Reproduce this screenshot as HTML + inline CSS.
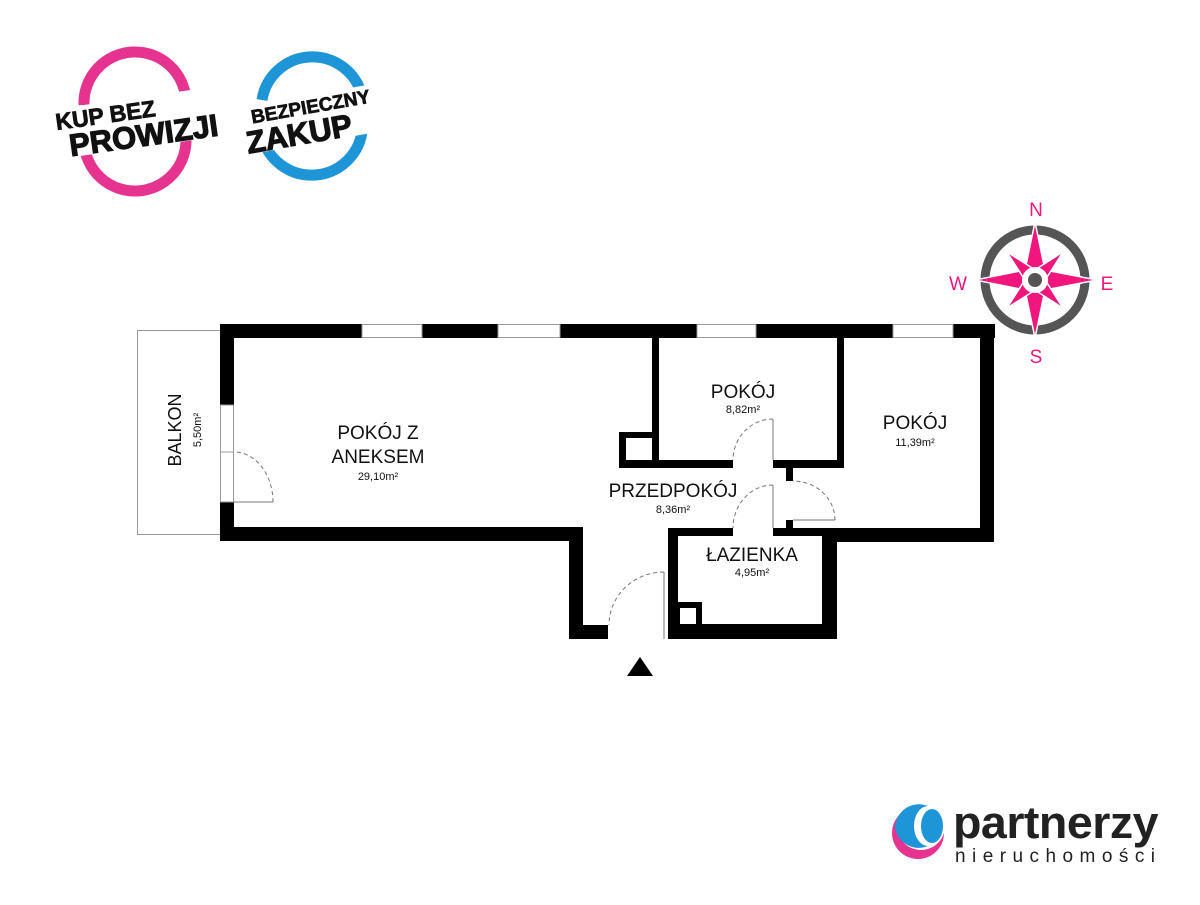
<!DOCTYPE html>
<html><head><meta charset="utf-8"><style>
html,body{margin:0;padding:0;background:#fff;}
body{width:1200px;height:900px;overflow:hidden;}
svg text{font-family:"Liberation Sans",sans-serif;}
</style></head><body>
<svg width="1200" height="900" viewBox="0 0 1200 900" xmlns="http://www.w3.org/2000/svg">
<!-- badges -->
<g>
<path d="M 84 105 A 51 51 0 0 1 186 101" fill="none" stroke="#e6338f" stroke-width="11"/>
<path d="M 186 138 A 51 51 0 0 1 84 142" fill="none" stroke="#e6338f" stroke-width="11"/>
<g transform="rotate(-8 135 117)">
<rect x="60" y="98" width="165" height="50" fill="#fff"/>
<text x="106" y="119" font-size="23" font-weight="bold" text-anchor="middle" fill="#111" stroke="#111" stroke-width="0.8">KUP BEZ</text>
<text x="141" y="147" font-size="31" font-weight="bold" text-anchor="middle" fill="#111" stroke="#111" stroke-width="1.2">PROWIZJI</text>
</g>
</g>
<g>
<path d="M 262 100 A 51 51 0 0 1 362 96" fill="none" stroke="#1e95d6" stroke-width="11"/>
<path d="M 362 132 A 51 51 0 0 1 262 136" fill="none" stroke="#1e95d6" stroke-width="11"/>
<g transform="rotate(-10 312 115)">
<rect x="242" y="95" width="140" height="48" fill="#fff"/>
<text x="312" y="113" font-size="19" font-weight="bold" text-anchor="middle" fill="#111" stroke="#111" stroke-width="0.7">BEZPIECZNY</text>
<text x="296" y="142" font-size="31" font-weight="bold" text-anchor="middle" fill="#111" stroke="#111" stroke-width="1.2">ZAKUP</text>
</g>
</g>

<!-- compass -->
<g>
<circle cx="1035" cy="280" r="50" fill="none" stroke="#555" stroke-width="9"/>
<g stroke="#555" stroke-width="3">
<line x1="1035" y1="280" x2="1035" y2="280"/>
</g>
<g fill="#f0167e" stroke="#fff" stroke-width="1.5">
<polygon points="1035,222 1045,270 1035,280 1025,270"/>
<polygon points="1035,338 1045,290 1035,280 1025,290"/>
<polygon points="975,280 1025,270 1035,280 1025,290"/>
<polygon points="1097,280 1045,270 1035,280 1045,290"/>
<g transform="rotate(45 1035 280)">
<polygon points="1035,240 1042,272 1035,280 1028,272"/>
<polygon points="1035,320 1042,288 1035,280 1028,288"/>
<polygon points="995,280 1027,273 1035,280 1027,287"/>
<polygon points="1075,280 1043,273 1035,280 1043,287"/>
</g>
</g>
<circle cx="1035" cy="280" r="13" fill="#fff"/>
<circle cx="1035" cy="280" r="7" fill="#555"/>
<text x="1036" y="216" font-size="19" fill="#f0167e" text-anchor="middle">N</text>
<text x="1036" y="363" font-size="19" fill="#f0167e" text-anchor="middle">S</text>
<text x="958" y="290" font-size="19" fill="#f0167e" text-anchor="middle">W</text>
<text x="1107" y="290" font-size="19" fill="#f0167e" text-anchor="middle">E</text>
</g>

<!-- balcony -->
<rect x="137.5" y="330.5" width="83" height="204" fill="none" stroke="#999" stroke-width="1"/>
<text transform="translate(181 430) rotate(-90)" font-size="18" text-anchor="middle" fill="#111">BALKON</text>
<text transform="translate(201 430) rotate(-90)" font-size="11" text-anchor="middle" fill="#111">5,50m²</text>

<!-- walls -->
<g fill="#000">
<rect x="220" y="324" width="775" height="14"/>
<rect x="220" y="324" width="14" height="81"/>
<rect x="220" y="502" width="14" height="39"/>
<rect x="220" y="527" width="363" height="14"/>
<rect x="569" y="527" width="14" height="112"/>
<rect x="569" y="625" width="39" height="14"/>
<rect x="980" y="324" width="14" height="218"/>
<rect x="822" y="528" width="172" height="14"/>
<rect x="652" y="338" width="7" height="130"/>
<rect x="652" y="460" width="81" height="8"/>
<rect x="773" y="460" width="71" height="8"/>
<rect x="837" y="338" width="7" height="130"/>
<rect x="619" y="432" width="40" height="36"/>
<rect x="786" y="468" width="7" height="13"/>
<rect x="786" y="520" width="7" height="8"/>
<rect x="668" y="528" width="65" height="8"/>
<rect x="773" y="528" width="64" height="8"/>
<rect x="668" y="528" width="10" height="111"/>
<rect x="822" y="528" width="15" height="111"/>
<rect x="668" y="624" width="169" height="15"/>
<rect x="674" y="602" width="28" height="22"/>
</g>
<rect x="626" y="438" width="26" height="22" fill="#fff"/>
<rect x="680" y="608" width="16" height="16" fill="#fff"/>
<!-- windows -->
<g fill="#fff" stroke="#999" stroke-width="1">
<rect x="362" y="324.5" width="60" height="13"/>
<rect x="498" y="324.5" width="62" height="13"/>
<rect x="697" y="324.5" width="59" height="13"/>
<rect x="893" y="324.5" width="60" height="13"/>
<rect x="220.5" y="405" width="13" height="47"/>
<rect x="220.5" y="452" width="13" height="50"/>
</g>
<!-- doors -->
<g fill="none" stroke="#777" stroke-width="1">
<line x1="234" y1="502" x2="273" y2="502"/>
<path d="M 273 502 A 39 50 0 0 0 234 452" stroke-dasharray="4 3"/>
<line x1="664" y1="572" x2="664" y2="639"/>
<path d="M 664 572 A 55 53 0 0 0 609 625" stroke-dasharray="4 3"/>
<line x1="773" y1="419" x2="773" y2="460"/>
<path d="M 773 419 A 40 41 0 0 0 733 460" stroke-dasharray="4 3"/>
<line x1="773" y1="485" x2="773" y2="528"/>
<path d="M 773 485 A 40 43 0 0 0 733 528" stroke-dasharray="4 3"/>
<line x1="793" y1="520" x2="835" y2="520"/>
<path d="M 835 520 A 42 39 0 0 0 793 481" stroke-dasharray="4 3"/>
</g>
<polygon points="640,657 653,676 627,676" fill="#000"/>

<!-- labels -->
<g fill="#111" text-anchor="middle">
<text x="378" y="439" font-size="19">POKÓJ Z</text>
<text x="378" y="463" font-size="19">ANEKSEM</text>
<text x="378" y="480" font-size="11">29,10m²</text>
<text x="743" y="398" font-size="19">POKÓJ</text>
<text x="743" y="413" font-size="11">8,82m²</text>
<text x="915" y="429" font-size="19">POKÓJ</text>
<text x="915" y="446" font-size="11">11,39m²</text>
<text x="673" y="497" font-size="19">PRZEDPOKÓJ</text>
<text x="673" y="513" font-size="11">8,36m²</text>
<text x="752" y="561" font-size="19">ŁAZIENKA</text>
<text x="752" y="576" font-size="11">4,95m²</text>
</g>

<!-- logo -->
<g>
<circle cx="918" cy="833" r="26" fill="#e6338f"/>
<circle cx="921" cy="826" r="24" fill="#fff"/>
<path d="M 895 828 A 24 24 0 0 1 928 806 A 14 20 0 0 0 928 846 A 24 24 0 0 1 895 828 Z" fill="#1e95d6"/>
<ellipse cx="932" cy="826" rx="11" ry="17" fill="#1e95d6"/>
<text x="953" y="838" font-size="45" font-weight="bold" fill="#222" letter-spacing="-0.5" textLength="205" lengthAdjust="spacingAndGlyphs">partnerzy</text>
<text x="955" y="862" font-size="19" fill="#222" textLength="200" lengthAdjust="spacing">nieruchomości</text>
</g>
</svg>
</body></html>
